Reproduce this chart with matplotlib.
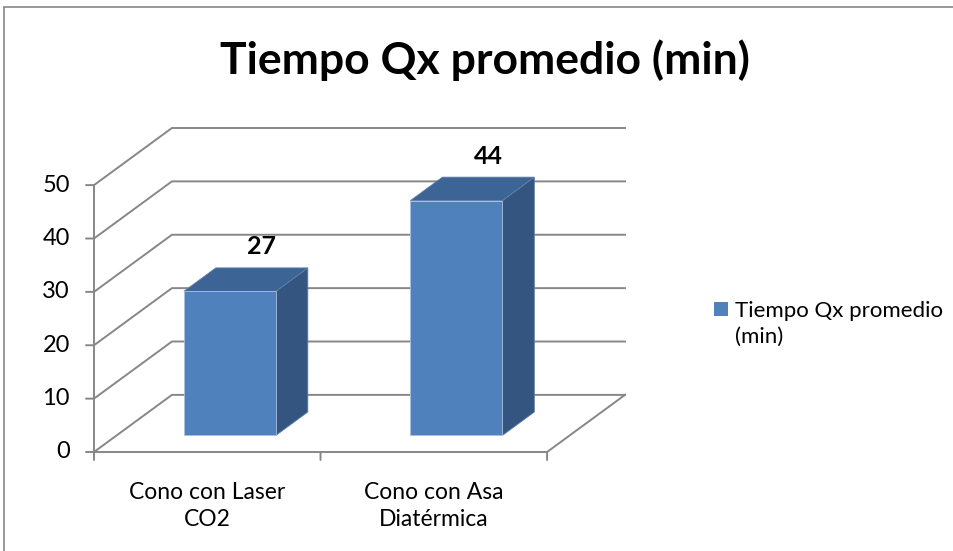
import matplotlib
matplotlib.use("Agg")
import matplotlib.pyplot as plt
from matplotlib.patches import Polygon, Rectangle

# --- data ---
categories = ["Cono con Laser\nCO2", "Cono con Asa\nDiatérmica"]
values = [27, 44]
yticks = [0, 10, 20, 30, 40, 50]
title = "Tiempo Qx promedio (min)"
series_name = "Tiempo Qx promedio\n(min)"

FRONT = "#4f81bd"
SIDE = "#34557f"
TOP = "#3c6494"
GRID = "#878787"

plt.rcParams["font.family"] = ["Lato", "DejaVu Sans"]

W, H = 954, 551
fig = plt.figure(figsize=(W / 100, H / 100), dpi=100)

# oblique "3d" depth, in data units
DX, DY = 0.344, 10.7
BAR_W = 0.406
D0, D1 = 0.29, 0.70
YMAX = 50

ax = fig.add_axes([94 / W, (H - 452) / H, (625 - 94) / W, (452 - 128) / H])
ax.set_xlim(-0.5, 1.5 + DX)
ax.set_ylim(0, YMAX + DY)
ax.axis("off")

x_lo, x_hi = -0.5, len(categories) - 0.5

# walls / gridlines
for v in yticks:
    ax.plot([x_lo, x_lo + DX, x_hi + DX], [v, v + DY, v + DY],
            color=GRID, lw=1.4, clip_on=False, zorder=1)
    ax.annotate(str(v), xy=(x_lo, v), xytext=(-24, 0), textcoords="offset pixels",
                ha="right", va="center", fontsize=17, annotation_clip=False)
    ax.annotate("", xy=(x_lo, v), xytext=(-8, 0), textcoords="offset pixels",
                arrowprops=dict(arrowstyle="-", color=GRID, lw=1.4,
                                shrinkA=0, shrinkB=0), annotation_clip=False)

# floor edges and axes
ax.plot([x_hi, x_hi + DX], [0, DY], color=GRID, lw=1.4, clip_on=False, zorder=1)
ax.plot([x_lo, x_hi], [0, 0], color=GRID, lw=1.4, clip_on=False, zorder=2)
ax.plot([x_lo, x_lo], [0, YMAX], color=GRID, lw=1.4, clip_on=False, zorder=2)
for t in [x_lo, 0.5, x_hi]:
    ax.annotate("", xy=(t, 0), xytext=(0, -8), textcoords="offset pixels",
                arrowprops=dict(arrowstyle="-", color=GRID, lw=1.4,
                                shrinkA=0, shrinkB=0), annotation_clip=False)

# bars
ddx, ddy = (D1 - D0) * DX, (D1 - D0) * DY
for i, (cat, v) in enumerate(zip(categories, values)):
    x0 = i - BAR_W / 2 + D0 * DX
    x1 = x0 + BAR_W
    y0 = D0 * DY
    top = v + D0 * DY
    front = [(x0, y0), (x1, y0), (x1, top), (x0, top)]
    side = [(x1, y0), (x1 + ddx, y0 + ddy), (x1 + ddx, top + ddy), (x1, top)]
    lid = [(x0, top), (x1, top), (x1 + ddx, top + ddy), (x0 + ddx, top + ddy)]
    ax.add_patch(Polygon(side, closed=True, fc=SIDE, ec="#5d7ea8", lw=0.6, zorder=5, clip_on=False))
    ax.add_patch(Polygon(lid, closed=True, fc=TOP, ec="#5d7ea8", lw=0.6, zorder=5, clip_on=False))
    ax.add_patch(Polygon(front, closed=True, fc=FRONT, ec="#a9c0de", lw=0.6, zorder=6, clip_on=False))
    ax.annotate(str(v), xy=(i + D1 * DX, v + D1 * DY), xytext=(0, 21),
                textcoords="offset pixels", ha="center", va="center",
                fontsize=18, fontweight="bold", annotation_clip=False)
    ax.annotate(cat, xy=(i, 0), xytext=(0, -54), textcoords="offset pixels",
                ha="center", va="center", fontsize=16.5, linespacing=1.35,
                annotation_clip=False)

fig.text(485 / W, 1 - 60 / H, title, ha="center", va="center",
         fontsize=32, fontweight="bold")

# legend
fig.add_artist(Rectangle((714 / W, 1 - 316 / H), 14 / W, 14 / H,
                         transform=fig.transFigure, fc=FRONT, ec="none"))
fig.text(735 / W, 1 - 324 / H, series_name, ha="left", va="center",
         fontsize=16, linespacing=1.35)

# chart border
fig.add_artist(Rectangle((4 / W, -0.1), 1.2, 1.1 - 7 / H,
                         transform=fig.transFigure, fc="none", ec="#868686", lw=1.2))

fig.savefig("out.png", dpi=100)
